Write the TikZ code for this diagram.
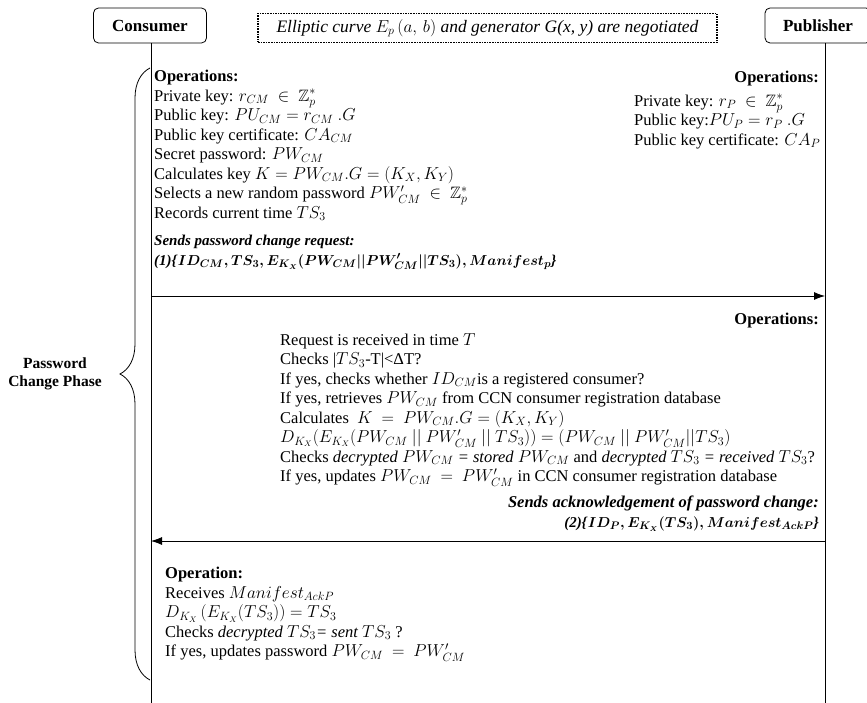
\documentclass[tikz,border=0pt]{standalone}
\usepackage{amsmath}
\usepackage{amssymb}
\usepackage{fontspec}
\setmainfont{Liberation Serif}
\usetikzlibrary{decorations.pathreplacing,arrows.meta}

\newcommand{\msgfont}{\fontsize{15}{18}\selectfont}

\begin{document}
\begin{tikzpicture}[x=1pt, y=-1pt,
    font=\fontsize{16.5}{19.5}\selectfont,
    party/.style={draw, thick, rounded corners=5pt, font=\fontsize{17}{18}\selectfont\bfseries, minimum height=35pt, inner sep=0pt},
    ops/.style={align=left, anchor=north west, inner sep=0pt},
    opsr/.style={align=right, anchor=north east, inner sep=0pt},
    msg/.style={thick, -{Latex[length=11pt, width=8pt]}}]
    \clip (0,0) rectangle (867,703);

    \node[party, minimum width=113pt] (cons) at (150,25.5) {Consumer};
    \node[party, minimum width=106pt] (pub) at (818,25.5) {Publisher};
    \node[draw, line width=1.6pt, densely dotted, minimum width=459pt, minimum height=29pt, font=\fontsize{17.5}{18}\selectfont\itshape] (curve) at (487.5,28)
        {Elliptic curve $E_p\,(a,\,b)$ and generator G(x, y) are negotiated};

    % lifelines
    \coordinate (consend) at (151,703);
    \coordinate (pubend) at (825,703);
    \draw[thick] (cons.south -| consend) -- (consend);
    \draw[thick] (pub.south -| pubend) -- (pubend);

    % consumer side
    \node[ops] (cops) at (154,70) {\textbf{Operations:}\\
        Private key: $r_{CM}\ \in\ \mathbb{Z}_p^*$\\
        Public key: $PU_{CM} = r_{CM}\ .G$\\
        Public key certificate: $CA_{CM}$\\
        Secret password: $PW_{CM}$\\
        Calculates key $K = PW_{CM}.G = (K_X, K_Y)$\\
        Selects a new random password $PW'_{CM}\ \in\ \mathbb{Z}_p^*$\\
        Records current time $TS_3$\\[8pt]
        {\msgfont\textbf{\textit{Sends password change request:}}}\\
        {\msgfont\textbf{\textit{(1)\{}}{\boldmath$ID_{CM},TS_3,E_{K_X}(PW_{CM}||PW'_{CM}||TS_3), Manifest_p$}\textbf{\textit{\}}}}};

    % publisher side
    \node[anchor=base east, inner sep=0pt] (pops) at (819,83) {\textbf{Operations:}};
    \node[ops] (pkeys) at (634,94) {Private key: $r_P\ \in\ \mathbb{Z}_p^*$\\
        Public key:$PU_P = r_P\ .G$\\
        Public key certificate: $CA_P$};

    \coordinate (req1) at (151,296);
    \coordinate (req2) at (825,296);
    \draw[msg] (req1) -- (req2);

    \node[anchor=base east, inner sep=0pt] (pops2) at (819,324) {\textbf{Operations:}};
    \node[ops] (pchk) at (280,333) {Request is received in time $T$\\
        Checks |$TS_3$-T|<ΔT?\\
        If yes, checks whether $ID_{CM}$is a registered consumer?\\
        If yes, retrieves $PW_{CM}$ from CCN consumer registration database\\
        Calculates\ \ $K\ =\ PW_{CM}.G = (K_X, K_Y)$\\
        $D_{K_X}(E_{K_X}(PW_{CM}\ ||\ PW'_{CM}\ ||\ TS_3)) = (PW_{CM}\ ||\ PW'_{CM}||TS_3)$\\
        Checks \textit{decrypted $PW_{CM}$ = stored $PW_{CM}$} and \textit{decrypted $TS_3$ = received $TS_3$}?\\
        If yes, updates $PW_{CM}\ =\ PW'_{CM}$ in CCN consumer registration database};
    \node[opsr] (pack) at (819,496) {\textbf{\textit{Sends acknowledgement of password change:}}\\
        {\msgfont\textbf{\textit{(2)\{}}{\boldmath$ID_P, E_{K_X}(TS_3), Manifest_{AckP}$}\textbf{\textit{\}}}}};

    \coordinate (ack1) at (825,541);
    \coordinate (ack2) at (151,541);
    \draw[msg] (ack1) -- (ack2);

    \node[ops] (cfin) at (165,567) {\textbf{Operation:}\\
        Receives $Manifest_{AckP}$\\
        $D_{K_X}\left(E_{K_X}(TS_3)\right) = TS_3$\\
        Checks \textit{decrypted $TS_3$= sent $TS_3$} ?\\
        If yes, updates password $PW_{CM}\ =\ PW'_{CM}$};

    % phase brace
    \coordinate (brbot) at (150,680);
    \coordinate (brtop) at (150,68);
    \draw[thick, decorate, decoration={brace, amplitude=30pt}] (brbot) -- (brtop);
    \node[align=center, font=\fontsize{15.5}{18}\selectfont\bfseries] (phase) at (55,374) {Password\\Change Phase};
\end{tikzpicture}
\end{document}
